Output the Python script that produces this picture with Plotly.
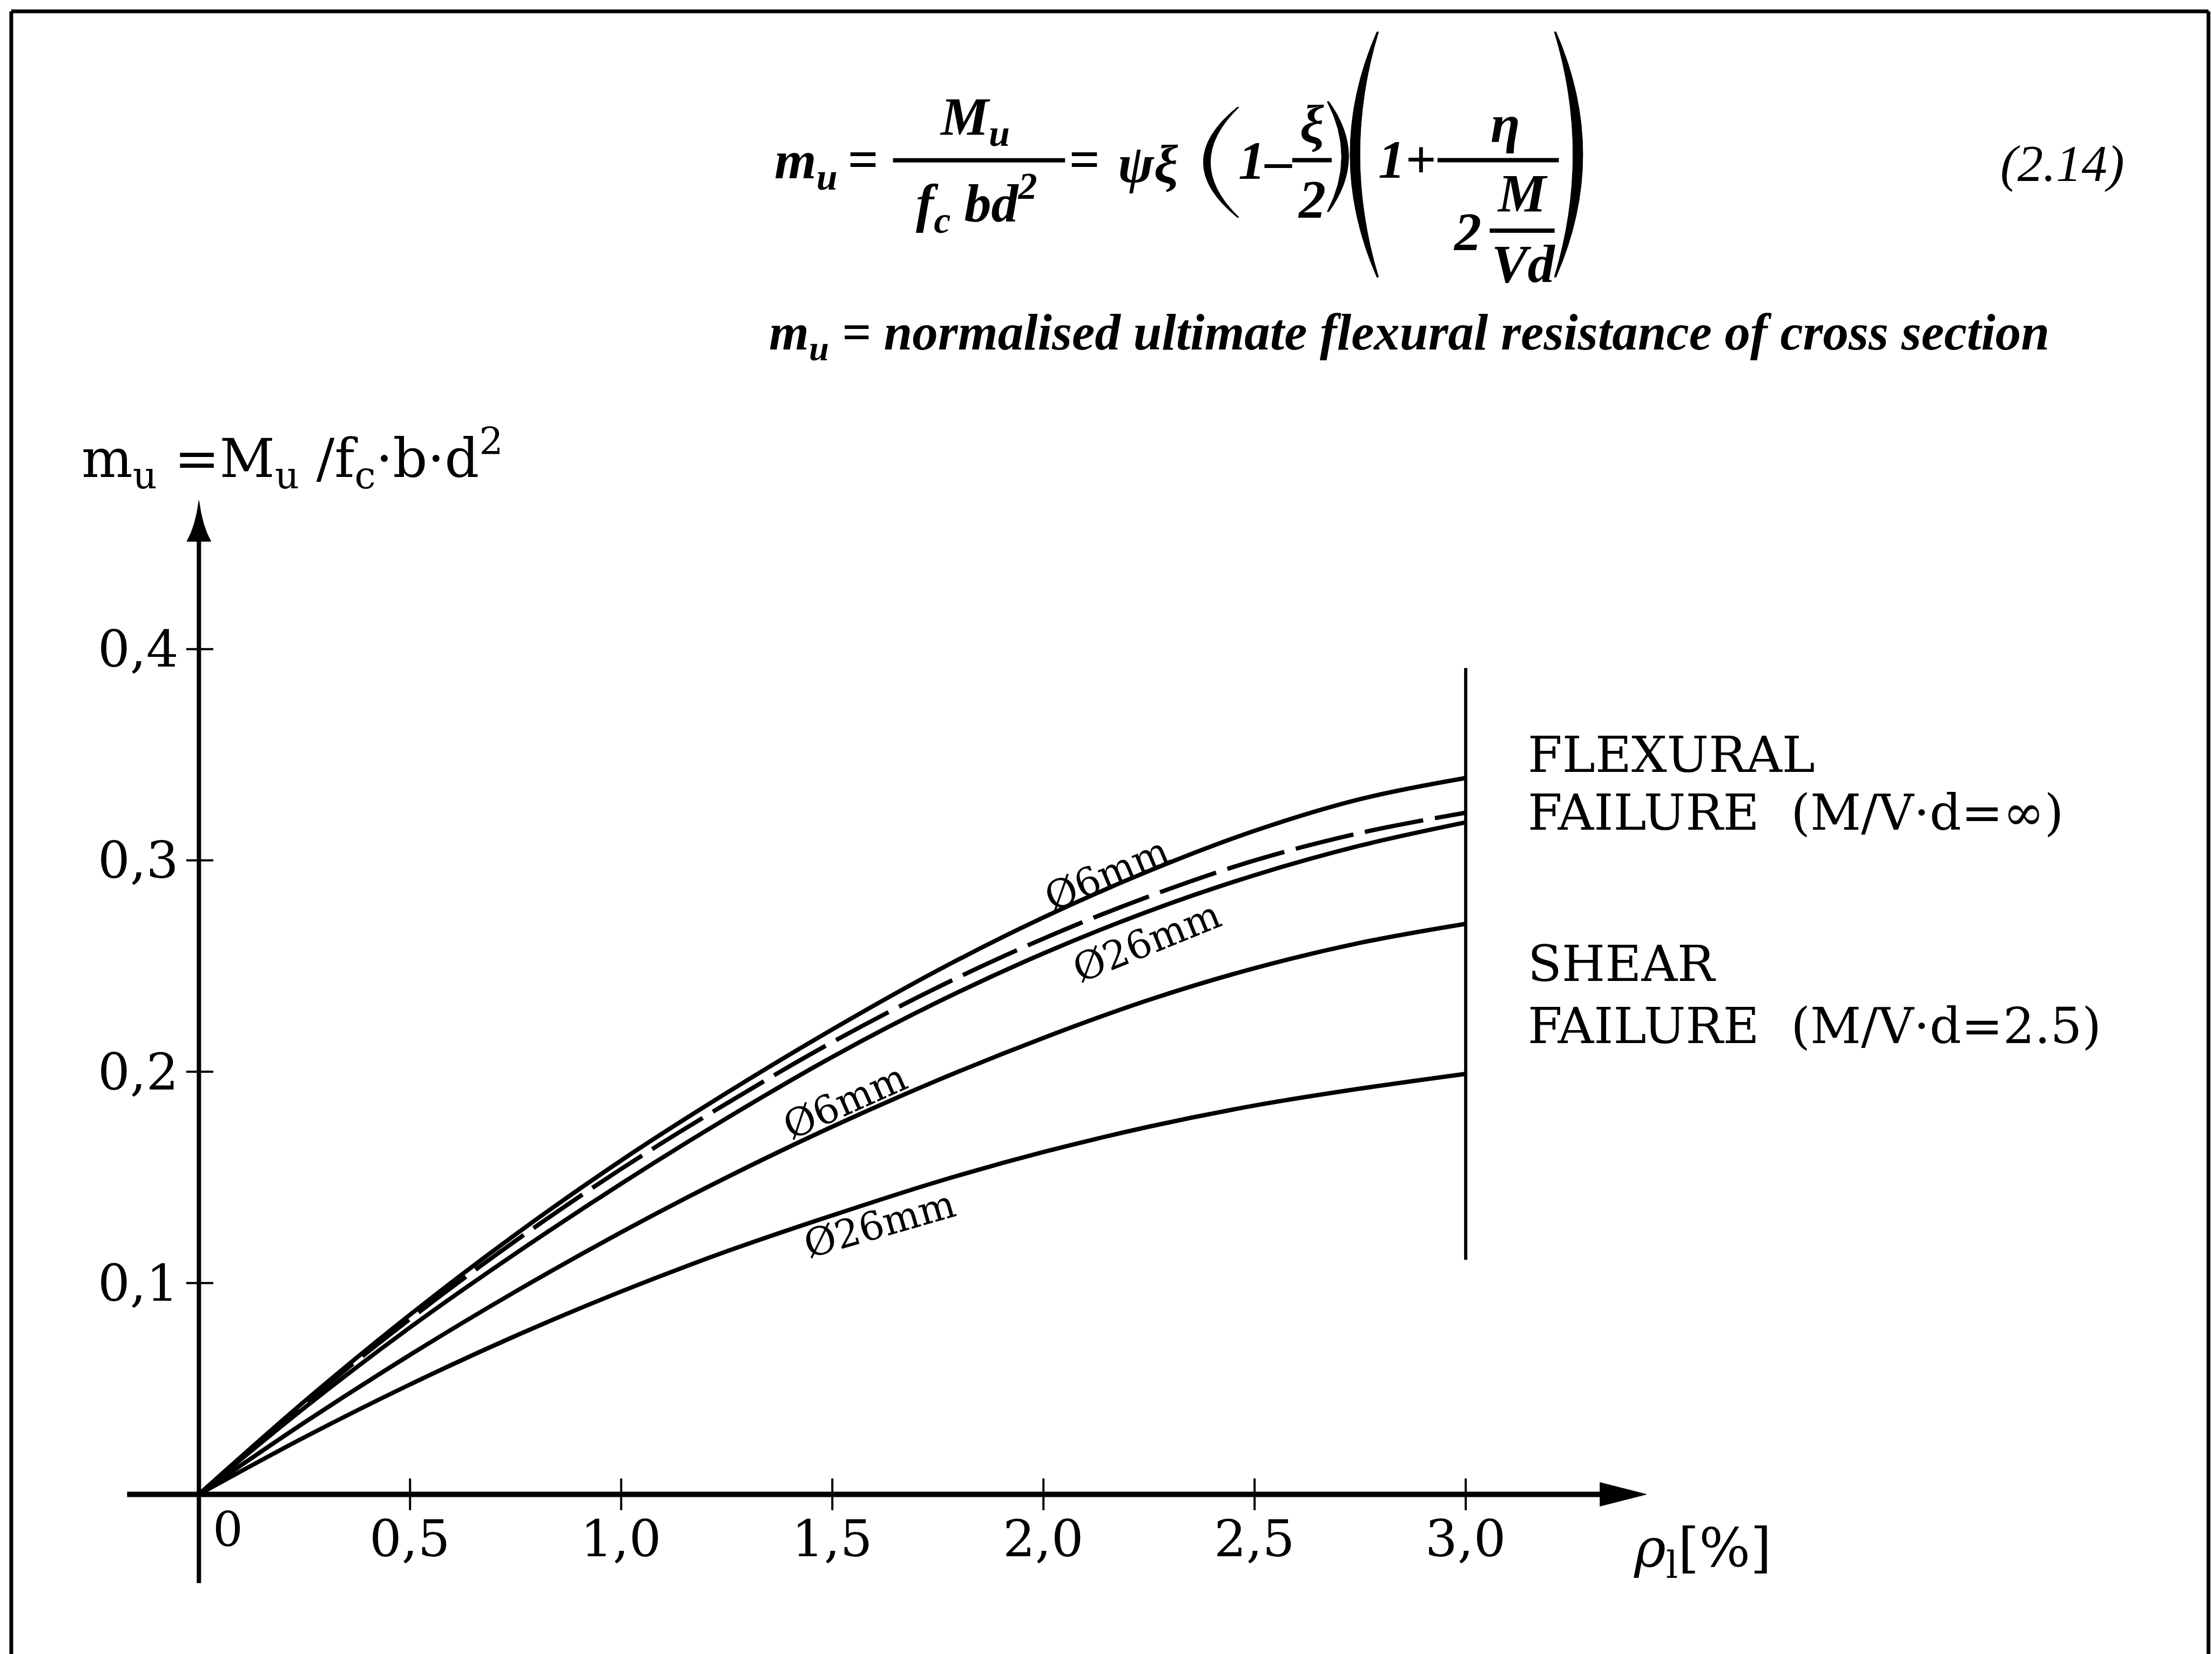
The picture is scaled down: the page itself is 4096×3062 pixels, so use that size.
import plotly.graph_objects as go

# ---------------- data ----------------
rho_pct = [0.0, 0.25, 0.5, 0.75, 1.0, 1.25, 1.5, 1.75, 2.0, 2.25, 2.5, 2.75, 3.0]
m_flex_6mm = [0.0, 0.044, 0.085, 0.123, 0.158, 0.190, 0.220, 0.248, 0.273, 0.295, 0.314, 0.329, 0.339]
m_flex_dashed = [0.0, 0.043, 0.083, 0.120, 0.154, 0.185, 0.214, 0.240, 0.263, 0.283, 0.300, 0.313, 0.3226]
m_flex_26mm = [0.0, 0.041, 0.079, 0.114, 0.147, 0.178, 0.207, 0.233, 0.256, 0.276, 0.293, 0.307, 0.318]
m_shear_6mm = [0.0, 0.034, 0.066, 0.096, 0.124, 0.150, 0.174, 0.196, 0.216, 0.234, 0.249, 0.261, 0.270]
m_shear_26mm = [0.0, 0.027, 0.052, 0.075, 0.096, 0.115, 0.132, 0.148, 0.162, 0.174, 0.184, 0.192, 0.199]

limit_rho = [3.0, 3.0]
limit_m = [0.111, 0.391]

x_tick_vals = [0.5, 1.0, 1.5, 2.0, 2.5, 3.0]
x_tick_text = ["0,5", "1,0", "1,5", "2,0", "2,5", "3,0"]
y_tick_vals = [0.1, 0.2, 0.3, 0.4]
y_tick_text = ["0,1", "0,2", "0,3", "0,4"]

curve_labels = ["Ø6mm", "Ø26mm", "Ø6mm", "Ø26mm"]
failure_texts = ["FLEXURAL", "FAILURE\u00a0\u00a0(M/V·d=∞)", "SHEAR", "FAILURE\u00a0\u00a0(M/V·d=2.5)"]

# ---------------- geometry ----------------
W, H = 4096, 3062
SW, SH = 1568.0, 1172.15      # design grid (reference shrunk)
X0, XU = 141.0, 299.33        # design px of rho=0, px per 1 %
Y0, YU = 1059.0, 1497.5       # design px of m=0, px per 1.0

x_range = [(0 - X0) / XU, (SW - X0) / XU]
y_range = [(Y0 - SH) / YU, (Y0 - 0) / YU]


def px(sx):
    return sx / SW


def py(sy):
    return 1 - sy / SH


SERIF = "DejaVu Serif"
TIMES = "Liberation Serif"
BLACK = "#000000"

fig = go.Figure()

line_w = 8
for ys, dash in [(m_flex_6mm, "solid"), (m_flex_dashed, "110px,22px"), (m_flex_26mm, "solid"),
                 (m_shear_6mm, "solid"), (m_shear_26mm, "solid")]:
    fig.add_trace(go.Scatter(x=rho_pct, y=ys, mode="lines",
                             line=dict(color=BLACK, width=line_w, dash=dash, shape="spline", smoothing=1.0),
                             hoverinfo="skip", showlegend=False))

fig.add_trace(go.Scatter(x=limit_rho, y=limit_m, mode="lines",
                         line=dict(color=BLACK, width=6), hoverinfo="skip", showlegend=False))

shapes = []
# x axis with arrow
shapes.append(dict(type="line", xref="x", yref="y", x0=-0.170, y0=0, x1=3.33, y1=0,
                   line=dict(color=BLACK, width=10)))
shapes.append(dict(type="path", xref="x", yref="y",
                   path="M 3.318,0.0056 L 3.428,0 L 3.318,-0.0056 Z",
                   fillcolor=BLACK, line=dict(color=BLACK, width=1)))
# y axis with arrow
shapes.append(dict(type="line", xref="x", yref="y", x0=0, y0=-0.042, x1=0, y1=0.456,
                   line=dict(color=BLACK, width=8)))
shapes.append(dict(type="path", xref="x", yref="y",
                   path="M -0.0285,0.4510 Q -0.008,0.458 0,0.4703 Q 0.008,0.458 0.0285,0.4510 Z",
                   fillcolor=BLACK, line=dict(color=BLACK, width=1)))
for v in x_tick_vals:
    shapes.append(dict(type="line", xref="x", yref="y", x0=v, y0=-0.0075, x1=v, y1=0.0075,
                       line=dict(color=BLACK, width=4)))
for v in y_tick_vals:
    shapes.append(dict(type="line", xref="x", yref="y", x0=-0.030, y0=v, x1=0.034, y1=v,
                       line=dict(color=BLACK, width=4)))

# page frame (left, top, right)
fw = 7
shapes.append(dict(type="line", xref="paper", yref="paper", x0=px(8), y0=0, x1=px(8), y1=py(8),
                   line=dict(color=BLACK, width=fw)))
shapes.append(dict(type="line", xref="paper", yref="paper", x0=px(8), y0=py(8), x1=px(1565.5), y1=py(8),
                   line=dict(color=BLACK, width=fw)))
shapes.append(dict(type="line", xref="paper", yref="paper", x0=px(1565.5), y0=0, x1=px(1565.5), y1=py(8),
                   line=dict(color=BLACK, width=fw)))

# formula fraction bars
for x0, x1, yy in [(633, 755, 113.6), (916, 944, 113.5), (1019, 1105, 113.5), (1056, 1102, 163.5)]:
    shapes.append(dict(type="line", xref="paper", yref="paper", x0=px(x0), y0=py(yy), x1=px(x1), y1=py(yy),
                       line=dict(color=BLACK, width=8)))


def paren(x_end, x_bulge, y_top, y_bot, t, e=1.2):
    """crescent shaped parenthesis in design px -> paper path"""
    ym = (y_top + y_bot) / 2
    s = 1 if x_bulge < x_end else -1   # s=1 : "(" ; s=-1 : ")"
    c_out = 2 * x_bulge - x_end
    xe_in = x_end + s * e
    c_in = 2 * (x_bulge + s * t) - xe_in
    pts = [
        ("M", [(x_end, y_top)]),
        ("Q", [(c_out, ym), (x_end, y_bot)]),
        ("L", [(xe_in, y_bot)]),
        ("Q", [(c_in, ym), (xe_in, y_top)]),
    ]
    out = []
    for cmd, pp in pts:
        out.append(cmd + " " + " ".join("%.5f,%.5f" % (px(a), py(b)) for a, b in pp))
    return " ".join(out) + " Z"


for xe, xb, yt, yb, t in [(877, 853, 76, 154, 5), (942, 956, 72, 150, 5),
                          (976, 957, 22.6, 196.4, 7), (1103, 1122, 22.6, 196.4, 7)]:
    shapes.append(dict(type="path", xref="paper", yref="paper", path=paren(xe, xb, yt, yb, t),
                       fillcolor=BLACK, line=dict(color=BLACK, width=1)))

annotations = []


def ann(text, x, y, size, family=SERIF, xanchor="center", yanchor="middle", ref="data", angle=0):
    if ref == "data":
        xr, yr = "x", "y"
    else:
        xr, yr = "paper", "paper"
        x, y = px(x), py(y)
    annotations.append(dict(text=text, x=x, y=y, xref=xr, yref=yr, showarrow=False,
                            xanchor=xanchor, yanchor=yanchor, textangle=angle,
                            font=dict(family=family, size=size, color=BLACK)))


def bi(s):
    return "<b><i>" + s + "</i></b>"


# formula (design px positions)
F = 100
ann(bi("m<sub>u</sub>"), 548, 116, F, TIMES, xanchor="left", ref="paper")
ann(bi("="), 611.5, 113, F, TIMES, ref="paper")
ann(bi("M<sub>u</sub>"), 691, 85, F, TIMES, ref="paper")
ann(bi("f<sub>c</sub> bd<sup>2</sup>"), 692, 144, F, TIMES, ref="paper")
ann(bi("="), 768.5, 113, F, TIMES, ref="paper")
ann(bi("ψξ"), 814, 116, F, TIMES, ref="paper")
ann(bi("1–"), 877, 114, F, TIMES, xanchor="left", ref="paper")
ann(bi("ξ"), 930, 88, F, TIMES, ref="paper")
ann(bi("2"), 930, 141, F, TIMES, ref="paper")
ann(bi("1+"), 976, 113, F, TIMES, xanchor="left", ref="paper")
ann(bi("η"), 1067, 88, F, TIMES, ref="paper")
ann(bi("2"), 1040, 164, F, TIMES, ref="paper")
ann(bi("M"), 1079, 137, F, TIMES, ref="paper")
ann(bi("Vd"), 1080, 187, F, TIMES, ref="paper")
ann("<i>(2.14)</i>", 1462, 116, 95, TIMES, ref="paper")
ann(bi("m<sub>u</sub> = normalised ultimate flexural resistance of cross section"),
    999, 238, 95, TIMES, ref="paper")

# y axis title
ann("m<sub>u</sub> =M<sub>u</sub> /f<sub>c</sub>·b·d<sup>2</sup>", 57, 325, 100, xanchor="left", ref="paper")

# tick labels
for v, t in zip(y_tick_vals, y_tick_text):
    ann(t, -0.045, v, 94, xanchor="right")
for v, t in zip(x_tick_vals, x_tick_text):
    ann(t, v, -0.021, 94)
ann("0", 0.030, -0.0167, 88, xanchor="left")
ann("<i>ρ</i><sub>l</sub>[%]", 3.395, -0.027, 100, xanchor="left")

# right hand texts
for t, yv in zip(failure_texts, [0.350, 0.3225, 0.251, 0.2217]):
    ann(t, 3.144, yv, 92, xanchor="left")

# curve labels
for t, (xv, yv, a) in zip(curve_labels, [(2.150, 0.2935, -23), (2.245, 0.2615, -22),
                                         (1.530, 0.1860, -24), (1.611, 0.1280, -16)]):
    ann(t, xv, yv, 72, angle=a)

fig.update_layout(
    width=W, height=H, autosize=False,
    margin=dict(l=0, r=0, t=0, b=0, pad=0),
    paper_bgcolor="white", plot_bgcolor="white",
    showlegend=False,
    xaxis=dict(range=x_range, visible=False, fixedrange=True),
    yaxis=dict(range=y_range, visible=False, fixedrange=True),
    shapes=shapes, annotations=annotations,
)

fig.write_html("out.html", config={"displayModeBar": False},
               post_script="document.body.style.margin='0';document.body.style.overflow='hidden';")
